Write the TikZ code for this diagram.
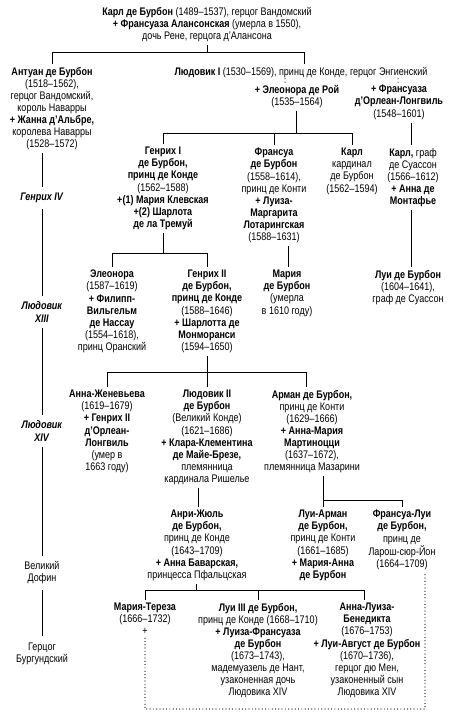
\documentclass[tikz,border=0pt]{standalone}
\usepackage{fontspec}
\setmainfont{Liberation Sans}[FakeStretch=0.82]
\newcommand{\gfont}{\fontsize{11}{12.1}\selectfont}
\begin{document}
\begin{tikzpicture}[x=1pt,y=-1pt,
  person/.style={align=center, inner sep=3pt, anchor=north, font=\gfont},
  gen/.style={align=center, inner xsep=0pt, inner ysep=6pt, font=\gfont},
  conn/.style={line width=0.9pt},
  dotc/.style={line width=1.2pt, line cap=round, dash pattern=on 0pt off 3.3pt}]
\useasboundingbox (0,0) rectangle (456,720);

% persons
\node[person] (karl) at (207,4) {\textbf{Карл де Бурбон} (1489--1537), герцог Вандомский\\\textbf{+ Франсуаза Алансонская} (умерла в 1550),\\дочь Рене, герцога д'Алансона};
\node[person] (antoine) at (52,64) {\textbf{Антуан де Бурбон}\\(1518--1562),\\герцог Вандомский,\\король Наварры\\\textbf{+ Жанна д'Альбре,}\\королева Наварры\\(1528--1572)};
\node[person] (louis1) at (301,64) {\textbf{Людовик I} (1530--1569), принц де Конде, герцог Энгиенский};
\node[person] (roye) at (297,82) {\textbf{+ Элеонора де Рой}\\(1535--1564)};
\node[person] (longv) at (399,82) {\textbf{+ Франсуаза}\\\textbf{д'Орлеан-Лонгвиль}\\(1548--1601)};
\node[person] (henri1) at (163,144) {\textbf{Генрих I}\\\textbf{де Бурбон,}\\\textbf{принц де Конде}\\(1562--1588)\\\textbf{+(1) Мария Клевская}\\\textbf{+(2) Шарлота}\\\textbf{де ла Тремуй}};
\node[person] (francois) at (274,145) {\textbf{Франсуа}\\\textbf{де Бурбон}\\(1558--1614),\\принц де Конти\\\textbf{+ Луиза-}\\\textbf{Маргарита}\\\textbf{Лотарингская}\\(1588--1631)};
\node[person] (cardinal) at (352,145) {\textbf{Карл}\\кардинал\\де Бурбон\\(1562--1594)};
\node[person] (soissons) at (413,145) {\textbf{Карл,} граф\\де Суассон\\(1566--1612)\\\textbf{+ Анна де}\\\textbf{Монтафье}};
\node[person] (eleonora) at (112,267) {\textbf{Элеонора}\\(1587--1619)\\\textbf{+ Филипп-}\\\textbf{Вильгельм}\\\textbf{де Нассау}\\(1554--1618),\\принц Оранский};
\node[person] (henri2) at (207,267) {\textbf{Генрих II}\\\textbf{де Бурбон,}\\\textbf{принц де Конде}\\(1588--1646)\\\textbf{+ Шарлотта де}\\\textbf{Монморанси}\\(1594--1650)};
\node[person] (marie) at (287,267) {\textbf{Мария}\\\textbf{де Бурбон}\\(умерла\\в 1610 году)};
\node[person] (louisb) at (408,267) {\textbf{Луи де Бурбон}\\(1604--1641),\\граф де Суассон};
\node[person] (anne) at (107,387) {\textbf{Анна-Женевьева}\\(1619--1679)\\\textbf{+ Генрих II}\\\textbf{д'Орлеан-}\\\textbf{Лонгвиль}\\(умер в\\1663 году)};
\node[person] (louis2) at (207,387) {\textbf{Людовик II}\\\textbf{де Бурбон}\\(Великий Конде)\\(1621--1686)\\\textbf{+ Клара-Клементина}\\\textbf{де Майе-Брезе,}\\племянница\\кардинала Ришелье};
\node[person] (armand) at (312,387) {\textbf{Арман де Бурбон,}\\принц де Конти\\(1629--1666)\\\textbf{+ Анна-Мария}\\\textbf{Мартиноцци}\\(1637--1672),\\племянница Мазарини};
\node[person] (hj) at (197,507) {\textbf{Анри-Жюль}\\\textbf{де Бурбон,}\\принц де Конде\\(1643--1709)\\\textbf{+ Анна Баварская,}\\принцесса Пфальцская};
\node[person] (la) at (323,507) {\textbf{Луи-Арман}\\\textbf{де Бурбон,}\\принц де Конти\\(1661--1685)\\\textbf{+ Мария-Анна}\\\textbf{де Бурбон}};
\node[person] (fl) at (402,507) {\textbf{Франсуа-Луи}\\\textbf{де Бурбон,}\\принц де\\Ларош-сюр-Йон\\(1664--1709)};
\node[person] (mt) at (145,600) {\textbf{Мария-Тереза}\\(1666--1732)\\+};
\node[person] (l3) at (258,600) {\textbf{Луи III де Бурбон,}\\принц де Конде (1668--1710)\\\textbf{+ Луиза-Франсуаза}\\\textbf{де Бурбон}\\(1673--1743),\\мадемуазель де Нант,\\узаконенная дочь\\Людовика XIV};
\node[person] (alb) at (367,600) {\textbf{Анна-Луиза-}\\\textbf{Бенедикта}\\(1676--1753)\\\textbf{+ Луи-Август де Бурбон}\\(1670--1736),\\герцог дю Мен,\\узаконенный сын\\Людовика XIV};

% generations column
\node[gen] (g1) at (42,198) {\textbf{\textit{Генрих IV}}};
\node[gen] (g2) at (42,312) {\textbf{\textit{Людовик}}\\\textbf{\textit{XIII}}};
\node[gen] (g3) at (42,431) {\textbf{\textit{Людовик}}\\\textbf{\textit{XIV}}};
\node[gen] (g4) at (42,573) {Великий\\Дофин};
\node[gen] (g5) at (42,653.5) {Герцог\\Бургундский};

% junctions
\coordinate (j0) at (207,52);
\coordinate (j0r) at (304,52);
\coordinate (d1) at (285,0);
\coordinate (d2) at (398,0);
\coordinate (j1) at (296,133);
\coordinate (xs) at (411,0);
\coordinate (j2) at (163,253);
\coordinate (xm) at (288,0);
\coordinate (j3) at (207,372);
\coordinate (xa) at (306,0);
\coordinate (xh) at (198,0);
\coordinate (j4) at (323,500);
\coordinate (j5) at (196,590);
\coordinate (xb) at (364,0);
\coordinate (db) at (425,709);

% connectors
\draw[conn] (karl.south) -- (karl.south |- j0);
\draw[conn] (antoine.north) |- (j0r) -- (j0r |- louis1.north);
\draw[conn] (antoine.south -| g1) -- (g1);
\draw[conn] (g1) -- (g2);
\draw[conn] (g2) -- (g3);
\draw[conn] (g3) -- (g4);
\draw[conn] (g4) -- (g5);
\draw[dotc, shorten <=-2pt, shorten >=-1pt] (louis1.south -| d1) -- (roye.north -| d1);
\draw[dotc, shorten <=-2pt, shorten >=-1pt] (louis1.south -| d2) -- (longv.north -| d2);
\draw[conn] (roye.south -| j1) -- (j1);
\draw[conn] (henri1.north) |- (cardinal.north |- j1) -- (cardinal.north);
\draw[conn] (francois.north |- j1) -- (francois.north);
\draw[conn] (longv.south -| xs) -- (soissons.north -| xs);
\draw[conn] (soissons.south -| xs) -- (louisb.north -| xs);
\draw[conn] (henri1.south) -- (j2);
\draw[conn] (eleonora.north) |- (henri2.north |- j2) -- (henri2.north);
\draw[conn] (francois.south -| xm) -- (marie.north -| xm);
\draw[conn] (henri2.south) -- (louis2.north);
\draw[conn] (anne.north) |- (j3 -| xa) -- (armand.north -| xa);
\draw[conn] (louis2.south -| xh) -- (hj.north -| xh);
\draw[conn] (armand.south -| j4) -- (la.north -| j4);
\draw[conn] (j4) -| (fl.north);
\draw[conn] (hj.south -| j5) -- (j5);
\draw[conn] (mt.north) |- (j5 -| xb) -- (alb.north -| xb);
\draw[conn] (l3.north |- j5) -- (l3.north);
\draw[dotc] (mt.south) |- (db) -- (fl.south -| db);
\end{tikzpicture}
\end{document}
